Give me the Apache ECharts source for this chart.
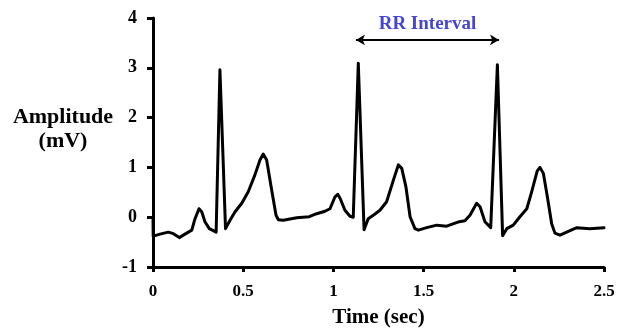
<!DOCTYPE html>
<html>
<head>
<meta charset="utf-8">
<script src="https://cdn.jsdelivr.net/npm/echarts@6/dist/echarts.min.js"></script>
<style>
  html, body { margin: 0; padding: 0; background: #fff; }
  #chart { width: 621px; height: 332px; }
</style>
</head>
<body>
<div id="chart"></div>
<script>
// ECG trace (time in s, amplitude in mV)
var timeSec = [
  0, 0.001, 0.011, 0.039, 0.085, 0.113, 0.146, 0.168, 0.196, 0.215,
  0.233, 0.255, 0.270, 0.288, 0.312, 0.334, 0.350, 0.371, 0.402, 0.427,
  0.455, 0.492, 0.528, 0.565, 0.593, 0.611, 0.630, 0.658, 0.682, 0.695,
  0.722, 0.797, 0.866, 0.907, 0.953, 0.981, 1.009, 1.024, 1.037, 1.064,
  1.092, 1.110, 1.138, 1.170, 1.193, 1.221, 1.258, 1.295, 1.332, 1.360,
  1.379, 1.402, 1.425, 1.452, 1.471, 1.517, 1.573, 1.628, 1.698, 1.729,
  1.757, 1.794, 1.813, 1.840, 1.872, 1.883, 1.909, 1.938, 1.961, 1.997,
  2.034, 2.072, 2.099, 2.130, 2.145, 2.164, 2.186, 2.210, 2.228, 2.256,
  2.293, 2.349, 2.422, 2.500
];
var amplitudeMv = [
  0, -0.38, -0.36, -0.34, -0.30, -0.33, -0.41, -0.36, -0.30, -0.26,
  -0.03, 0.17, 0.11, -0.09, -0.23, -0.27, -0.30, 2.96, -0.23, -0.06,
  0.11, 0.28, 0.51, 0.85, 1.15, 1.27, 1.15, 0.54, 0.04, -0.05,
  -0.06, -0.01, 0.01, 0.07, 0.12, 0.17, 0.41, 0.46, 0.38, 0.14,
  0.02, 0.00, 3.09, -0.25, -0.03, 0.04, 0.14, 0.31, 0.74, 1.05,
  0.98, 0.61, 0.01, -0.23, -0.26, -0.21, -0.16, -0.18, -0.09, -0.07,
  0.04, 0.28, 0.21, -0.09, -0.21, -0.18, 3.06, -0.37, -0.23, -0.16,
  0.01, 0.17, 0.51, 0.93, 1.00, 0.88, 0.41, -0.13, -0.32, -0.36,
  -0.30, -0.21, -0.23, -0.21
];

// axes
var xMin = 0, xMax = 2.5, xStep = 0.5;
var yMin = -1, yMax = 4, yStep = 1;

// RR interval annotation
var rrLabel = 'RR Interval';
var rrStart = 1.125, rrEnd = 1.918, rrLevel = 3.56;

var font = '"Liberation Serif", "Times New Roman", serif';

var points = timeSec.map(function (t, i) { return [t, amplitudeMv[i]]; });

var chart = echarts.init(document.getElementById('chart'));
chart.setOption({
  backgroundColor: '#fff',
  animation: false,
  grid: { left: 153, right: 17, top: 18, bottom: 65, containLabel: false, outerBoundsMode: 'none' },
  xAxis: {
    type: 'value', min: xMin, max: xMax, interval: xStep,
    name: 'Time (sec)', nameLocation: 'middle', nameGap: 40,
    nameTextStyle: { color: '#000', fontFamily: font, fontWeight: 'bold', fontSize: 21 },
    axisLine: { show: true, onZero: false, lineStyle: { color: '#000', width: 3 } },
    axisTick: { show: true, length: 5, lineStyle: { color: '#000', width: 3 } },
    axisLabel: { color: '#000', fontFamily: font, fontWeight: 'bold', fontSize: 17, margin: 16,
      showMinLabel: true, showMaxLabel: true },
    splitLine: { show: false }
  },
  yAxis: {
    type: 'value', min: yMin, max: yMax, interval: yStep,
    axisLine: { show: true, onZero: false, lineStyle: { color: '#000', width: 3 } },
    axisTick: { show: true, length: 6, lineStyle: { color: '#000', width: 3 } },
    axisLabel: { color: '#000', fontFamily: font, fontWeight: 'bold', fontSize: 18, margin: 16,
      showMinLabel: true, showMaxLabel: true },
    splitLine: { show: false }
  },
  graphic: [{
    type: 'text', x: 63, y: 129,
    style: {
      text: 'Amplitude\n(mV)', textAlign: 'center', textVerticalAlign: 'middle',
      font: 'bold 22px ' + font, lineHeight: 24, fill: '#000'
    }
  }],
  series: [{
    type: 'line',
    data: points,
    showSymbol: false,
    symbol: 'none',
    lineStyle: { color: '#000', width: 3, join: 'round', cap: 'round' },
    markLine: {
      silent: true,
      symbol: ['arrow', 'arrow'],
      symbolSize: [8, 9],
      lineStyle: { color: '#000', width: 2, type: 'solid' },
      label: {
        show: true, position: 'middle', formatter: rrLabel, distance: 6,
        color: '#4545d2', fontFamily: font, fontWeight: 'bold', fontSize: 19
      },
      data: [[{ coord: [rrStart, rrLevel] }, { coord: [rrEnd, rrLevel] }]]
    }
  }]
});
</script>
</body>
</html>
